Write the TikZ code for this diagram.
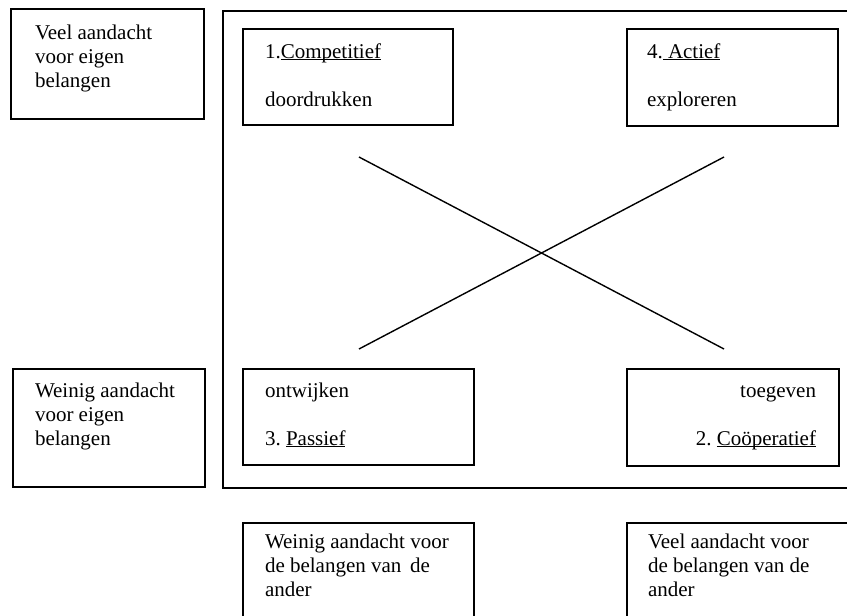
\documentclass[tikz,border=0pt]{standalone}
\usepackage{fontspec}
\setmainfont{Liberation Serif}
\usepackage{tikz}
\usetikzlibrary{positioning}

\frenchspacing
\newcommand{\onderlijn}[1]{\setbox0\hbox{#1}\rlap{\rule[-2.2pt]{\wd0}{1pt}}\box0}

\begin{document}
\begin{tikzpicture} [x=1pt, y=-1pt,
    every node/.style={inner sep=0pt, outer sep=0pt},
    vak/.style={draw, line width=1.4pt, anchor=north west},
    tekst/.style={align=left, font=\fontsize{21pt}{24pt}\selectfont}]

\useasboundingbox (0,0) rectangle (847,616);

\node (kader) [vak, minimum width=627pt, minimum height=477pt] at (223, 11) {};

\node (eigenVeel) [vak, minimum width=193pt, minimum height=110pt] at (11, 9) {};

\node (eigenWeinig) [vak, minimum width=192pt, minimum height=118pt] at (13, 369) {};

\node (comp) [vak, minimum width=210pt, minimum height=96pt] at (243, 29) {};

\node (actief) [vak, minimum width=211pt, minimum height=97pt] at (627, 29) {};

\node (passief) [vak, minimum width=231pt, minimum height=96pt] at (243, 369) {};

\node (coop) [vak, minimum width=212pt, minimum height=97pt] at (627, 369) {};

\node (anderWeinig) [vak, minimum width=231pt, minimum height=120pt] at (243, 523) {};

\node (anderVeel) [vak, minimum width=231pt, minimum height=120pt] at (627, 523) {};

% Teksten
\node (tEigenVeel) [tekst, below right=13.2pt and 24pt of eigenVeel.north west]
  {\strut Veel aandacht\\voor eigen\\belangen};

\node (tEigenWeinig) [tekst, below right=11.2pt and 22pt of eigenWeinig.north west]
  {\strut Weinig aandacht\\voor eigen\\belangen};

\node (tComp) [tekst, below right=12.2pt and 22pt of comp.north west]
  {\strut 1.\onderlijn{Competitief}\\[24pt]doordrukken};

\node (tActief) [tekst, below right=12.2pt and 20pt of actief.north west]
  {\strut 4.\onderlijn{ Actief}\\[24pt]exploreren};

\node (tPassief) [tekst, below right=11.2pt and 22pt of passief.north west]
  {\strut ontwijken\\[24pt]3. \onderlijn{Passief}};

\node (tCoop) [tekst, align=right, below left=11.2pt and 23pt of coop.north east]
  {\strut toegeven\\[24pt]2. \onderlijn{Coöperatief}};

\node (tAnderWeinig) [tekst, below right=8.2pt and 22pt of anderWeinig.north west]
  {\strut Weinig aandacht voor\\de belangen van \,de\\ander};

\node (tAnderVeel) [tekst, below right=8.2pt and 21pt of anderVeel.north west]
  {\strut Veel aandacht voor\\de belangen van de\\ander};

% Kruis
\coordinate (lb) at (359, 157);
\coordinate (rb) at (724, 157);
\coordinate (lo) at (359, 349);
\coordinate (ro) at (724, 349);

\draw [line width=1.4pt] (lb) -- (ro);
\draw [line width=1.4pt] (lo) -- (rb);
\end{tikzpicture}
\end{document}
